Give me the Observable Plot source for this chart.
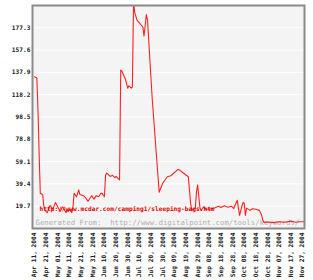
<!DOCTYPE html>
<html><head><meta charset="utf-8">
<script src="https://cdn.jsdelivr.net/npm/d3@7"></script>
<script src="https://cdn.jsdelivr.net/npm/@observablehq/plot@0.6"></script>
<style>body{margin:0;background:#fff}</style>
</head><body><div id="chart"></div>
<script>
const startDate = "2004-04-11";
const dayOffsets = [0,2,3,4,5,7,8,9,11,13,14,15,16,18,19,22,24,25,27,28,29,30,32,33,34,36,38,39,42,44,46,49,51,53,55,57,58,60,61,62,65,67,69,70,73,74,75,78,80,81,83,84,85,86,88,93,94,96,97,101,107,110,114,117,123,124,128,132,134,135,138,139,140,142,143,145,147,150,155,158,160,163,166,169,171,174,175,176,178,179,180,181,182,185,187,190,193,195,196,197,200,205,210,215,220,224,228,231];
const rankValues = [134,133,105,65,31,30,20,16,14,20,20,17,18,23,21,15,19,18,14,16,15,17,14,19,31,28,34,30,29,27,24,29,26,29,28,31,31,28,47,49,46,47,45,46,43,140,139,132,124,126,124,125,200,191,184,178,170,189,184,115,32,40,45.7,46.6,52,52,48.8,45.7,22,16,18,32,38.5,18,16,19,17,17,18.4,19.7,18.5,20,18.8,19.7,17.6,25,18,11.6,19.7,23,22.4,11.6,18,16,17.5,17,16,11.6,7,5.4,5.8,5.2,6,5.5,6.5,5.5,6,6];
const xTickDates = ["2004-04-11","2004-04-21","2004-05-01","2004-05-11","2004-05-21","2004-05-31","2004-06-10","2004-06-20","2004-06-30","2004-07-10","2004-07-20","2004-07-30","2004-08-09","2004-08-19","2004-08-29","2004-09-08","2004-09-18","2004-09-28","2004-10-08","2004-10-18","2004-10-28","2004-11-07","2004-11-17","2004-11-27"];
const yTickValues = [19.7,39.4,59.1,78.8,98.5,118.2,137.9,157.6,177.3];
const yMax = 197;
const sourceUrl = "http://www.mcdar.com/camping1/sleeping-bags.htm";
const generatedText = "Generated From:  http://www.digitalpoint.com/tools/keywords/";

const t0 = new Date(startDate + "T00:00:00Z");
const data = dayOffsets.map((d, i) => ({date: new Date(+t0 + d * 864e5), value: rankValues[i]}));
const ticks = xTickDates.map(s => new Date(s + "T00:00:00Z"));
const fmt = d3.utcFormat("%b %d, %Y");

const chart = Plot.plot({
  width: 313, height: 280,
  marginTop: 5, marginBottom: 52, marginLeft: 32, marginRight: 9,
  style: {fontFamily: "DejaVu Sans Mono", fontSize: "6.2px", fontWeight: "bold", color: "#222", background: "#fff", overflow: "visible"},
  x: {type: "utc", domain: [ticks[0], ticks[ticks.length - 1]], insetLeft: 2, insetRight: 2},
  y: {domain: [0, yMax]},
  marks: [
    Plot.frame({fill: "#f4f4f4"}),
    Plot.gridY(yTickValues, {stroke: "#fff", strokeOpacity: 1, strokeWidth: 1}),
    Plot.axisY(yTickValues, {tickSize: 0, tickPadding: 2, tickFormat: d => d.toFixed(1), label: null}),
    Plot.axisX(ticks, {tickSize: 0, tickPadding: 4, tickRotate: -90, tickFormat: fmt, label: null}),
    Plot.text([generatedText], {frameAnchor: "bottom-left", textAnchor: "start", lineAnchor: "middle", dx: 3, dy: -5.5, fill: "#b0b0b0", fontSize: 7.3, fontWeight: "normal"}),
    Plot.line(data, {x: "date", y: "value", stroke: "#ff2020", strokeWidth: 1.1, clip: true}),
    Plot.text([sourceUrl], {ariaLabel: "source-url", frameAnchor: "bottom-left", textAnchor: "start", lineAnchor: "middle", dx: 7, dy: -19, fill: "#e00000", fontSize: 6.2, fontWeight: "bold"}),
    Plot.frame({stroke: "#8a8a8a", strokeWidth: 2})
  ]
});
document.getElementById("chart").appendChild(chart);
const g = chart.querySelector('g[aria-label="source-url"]');
if (g) {
  const bb = g.getBBox();
  d3.select(g).insert("rect", ":first-child")
    .attr("x", bb.x - 2).attr("y", bb.y - 1.5)
    .attr("width", bb.width + 4).attr("height", bb.height + 3)
    .attr("fill", "#b8f5b8").attr("fill-opacity", 0.6)
    .attr("stroke", "#8ee88e").attr("stroke-width", 1);
}
</script></body></html>
